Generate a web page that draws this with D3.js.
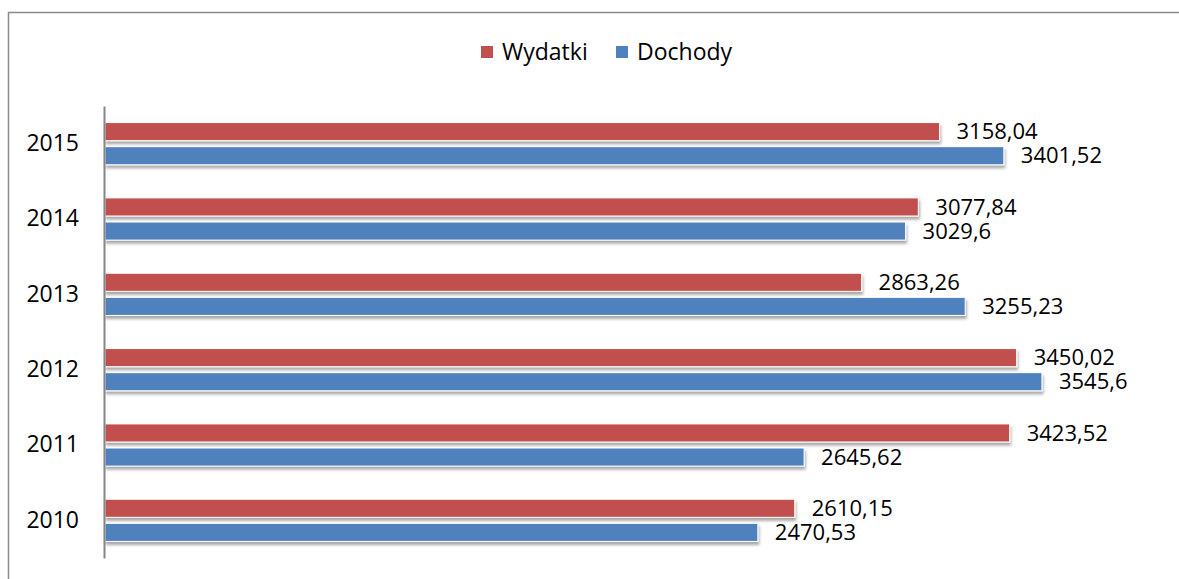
<!doctype html>
<html>
<head>
  <meta charset="utf-8">
  <script src="https://cdnjs.cloudflare.com/ajax/libs/d3/7.8.5/d3.min.js"></script>
  <style>
    body { margin: 0; background: white; }
    text { font-family: 'Open Sans', sans-serif; fill: #000; }
  </style>
</head>
<body>
  <script>
    const width = 1179;
    const height = 579;

    const years = ['2015', '2014', '2013', '2012', '2011', '2010'];
    const series = ['Wydatki', 'Dochody'];
    const wydatki = [3158.04, 3077.84, 2863.26, 3450.02, 3423.52, 2610.15];
    const dochody = [3401.52, 3029.6, 3255.23, 3545.6, 2645.62, 2470.53];
    const colors = ['#C0504D', '#4F81BD'];

    const data = years.map((y, i) => ({year: y, values: [wydatki[i], dochody[i]]}));
    const fmt = v => String(v).replace('.', ',');

    let svg = d3.select('body').append('svg')
      .attr('width', width)
      .attr('height', height);

    let defs = svg.append('defs');
    defs.append('filter')
        .attr('id', 'shadow')
        .attr('x', '-5%').attr('y', '-50%')
        .attr('width', '110%').attr('height', '200%')
      .append('feDropShadow')
        .attr('dx', 1).attr('dy', 3)
        .attr('stdDeviation', 1.5)
        .attr('flood-color', '#000')
        .attr('flood-opacity', 0.35);

    // outer frame (runs off the right and bottom edge)
    svg.append('rect')
      .attr('x', 8.5).attr('y', 12.5)
      .attr('width', 1300).attr('height', 700)
      .attr('fill', 'none')
      .attr('stroke', '#8a8a8a')
      .attr('stroke-width', 1.5);

    let x = d3.scaleLinear().domain([0, 4000]).range([105, 1162]);
    let y0 = d3.scaleBand().domain(years).range([106, 558])
      .paddingInner(0.44).paddingOuter(0.22);
    let y1 = d3.scaleBand().domain(series).range([0, y0.bandwidth()])
      .paddingInner(0.25);

    let groups = svg.append('g').selectAll('g').data(data).enter().append('g')
      .attr('transform', d => `translate(0,${y0(d.year)})`);

    groups.selectAll('rect').data(d => d.values.map((v, i) => ({v, s: series[i], c: colors[i]})))
      .enter().append('rect')
      .attr('x', x(0))
      .attr('y', d => y1(d.s))
      .attr('width', d => x(d.v) - x(0))
      .attr('height', y1.bandwidth())
      .attr('fill', d => d.c)
      .attr('stroke', '#fff')
      .attr('stroke-width', 1)
      .attr('filter', 'url(#shadow)');

    groups.selectAll('text').data(d => d.values.map((v, i) => ({v, s: series[i]})))
      .enter().append('text')
      .attr('x', d => x(d.v) + 17)
      .attr('y', d => y1(d.s) + y1.bandwidth() / 2)
      .attr('dy', '0.35em')
      .attr('font-size', '22px')
      .text(d => fmt(d.v));

    let yAxis = svg.append('g')
      .attr('transform', `translate(${x(0) - 1},0)`)
      .call(d3.axisLeft(y0).tickSize(0).tickPadding(25));
    yAxis.select('.domain').attr('stroke', '#868686').attr('stroke-width', 2);
    yAxis.selectAll('text')
      .attr('font-size', '23px')
      .attr('font-family', "'Open Sans', sans-serif")
      .attr('fill', '#000');

    // legend
    const legendX = [481, 616];
    let legend = svg.append('g').selectAll('g').data(series).enter().append('g')
      .attr('transform', (d, i) => `translate(${legendX[i]},46)`);
    legend.append('rect')
      .attr('width', 12).attr('height', 12)
      .attr('fill', (d, i) => colors[i]);
    legend.append('text')
      .attr('x', 21).attr('y', 6)
      .attr('dy', '0.35em')
      .attr('font-size', '23px')
      .text(d => d);
  </script>
</body>
</html>
